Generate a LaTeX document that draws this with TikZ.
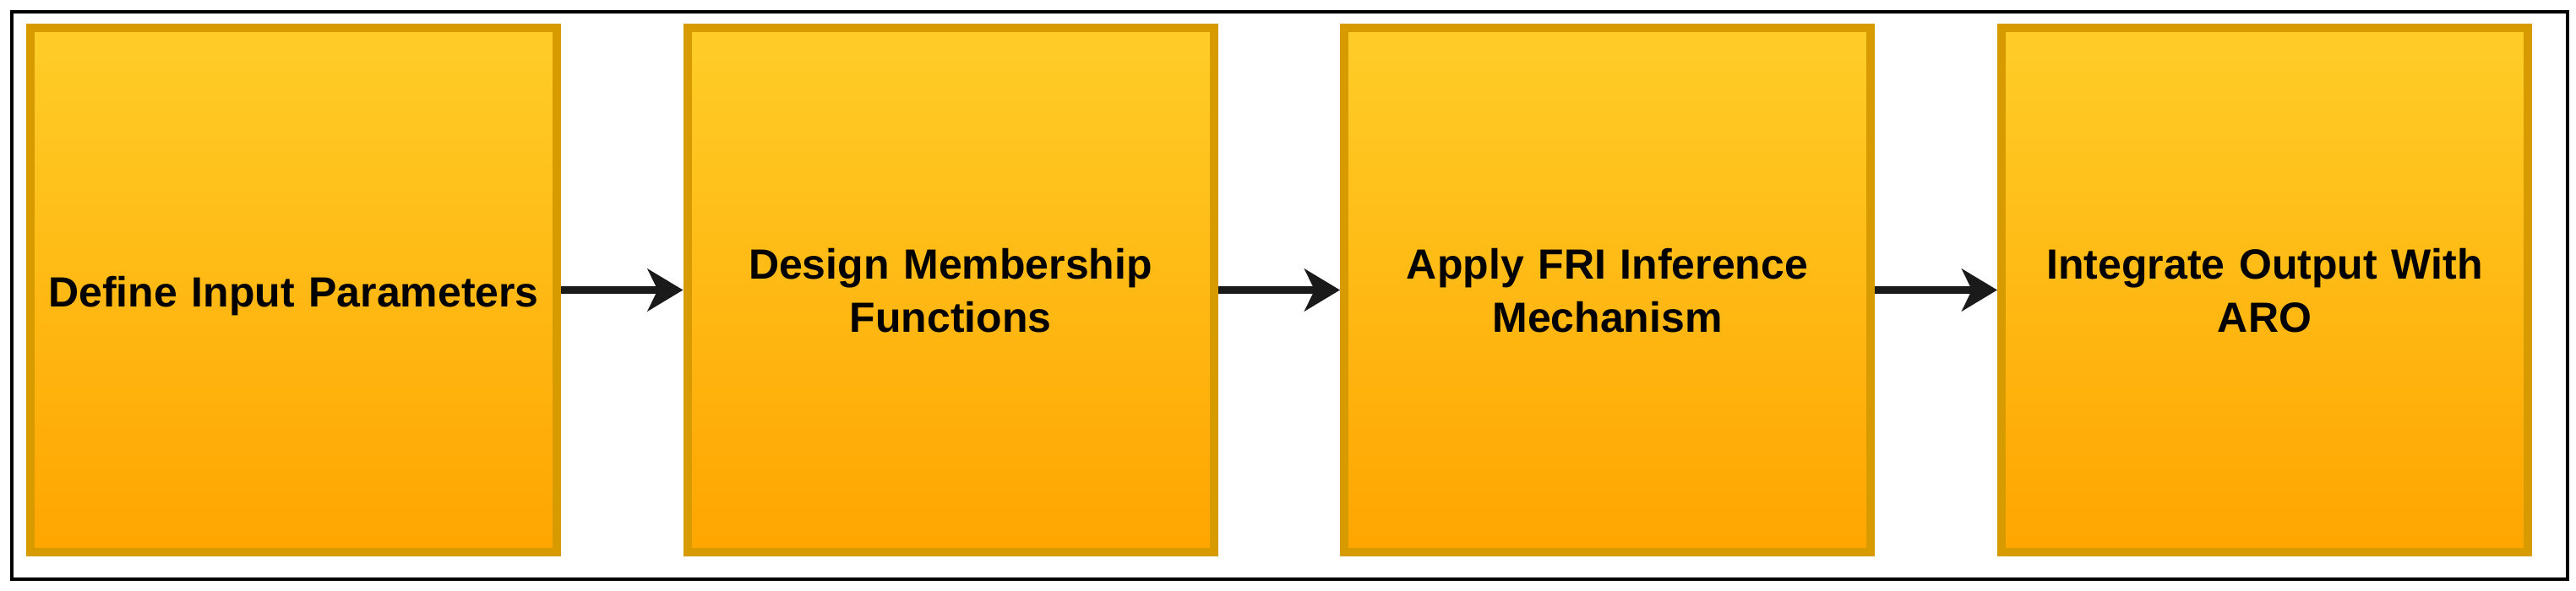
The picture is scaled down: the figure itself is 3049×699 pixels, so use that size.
\documentclass[tikz,border=0pt]{standalone}
\usepackage{fontspec}
\setmainfont{Liberation Sans}
\usetikzlibrary{arrows.meta}
\definecolor{boxtop}{HTML}{FFCD28}
\definecolor{boxbot}{HTML}{FFA500}
\definecolor{boxline}{HTML}{D79B00}
\definecolor{arrowcol}{HTML}{1A1A1A}
\tikzset{
  stepbox/.style={draw=boxline, line width=10pt, top color=boxtop, bottom color=boxbot,
    minimum width=623pt, minimum height=621pt, inner sep=0pt, text width=610pt, align=center,
    font=\fontsize{50pt}{63pt}\selectfont\bfseries, text=black},
  oneline/.style={text height=39pt, text depth=0pt},
  twoline/.style={text height=0pt, text depth=27pt},
  flow/.style={draw=arrowcol, fill=arrowcol, line width=9pt, -{Stealth[length=42pt,width=50pt,inset=12pt]}},
  framebox/.style={draw=black, line width=4pt, minimum width=3025.5pt, minimum height=672.5pt, inner sep=0pt}
}
\begin{document}
\begin{tikzpicture}[x=1pt,y=-1pt]
\useasboundingbox (0,0) rectangle (3049,699);
\node[framebox] (frame) at (1526.25,349.75) {};
\node[stepbox,oneline] (a) at (347.5,343.5) {Define Input Parameters};
\node[stepbox,twoline] (b) at (1125,343.5) {Design Membership\\Functions};
\node[stepbox,twoline] (c) at (1902.5,343.5) {Apply FRI Inference\\Mechanism};
\node[stepbox,twoline] (d) at (2680.5,343.5) {Integrate Output With\\ARO};
\draw[flow] (a.east) -- (b.west);
\draw[flow] (b.east) -- (c.west);
\draw[flow] (c.east) -- (d.west);
\end{tikzpicture}
\end{document}
